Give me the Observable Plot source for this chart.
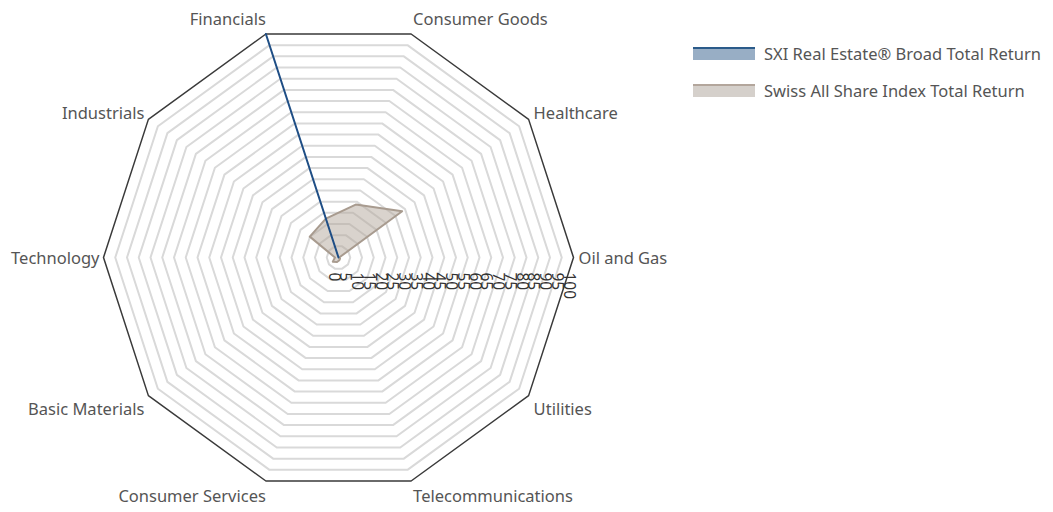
<!DOCTYPE html>
<html>
<head>
<meta charset="utf-8">
<script src="https://cdn.jsdelivr.net/npm/d3@7"></script>
<script src="https://cdn.jsdelivr.net/npm/@observablehq/plot@0.6"></script>
<style>
  html, body { margin: 0; padding: 0; background: #fff; }
  #wrap { position: relative; width: 1053px; height: 512px; font-family: "Noto Sans", sans-serif; }
  #chart svg { display: block; }
  .legend { position: absolute; left: 693px; top: 0; color: #555; font-size: 16.5px; }
  .item { position: absolute; left: 0; white-space: nowrap; display: flex; align-items: center; height: 22px; }
  .sw { width: 62px; height: 13px; flex: none; margin-right: 9px; box-sizing: border-box; }
</style>
</head>
<body>
<div id="wrap">
  <div id="chart"></div>
  <div class="legend" id="legend"></div>
</div>
<script>
// ---- data ----
const sectors = ["Financials", "Consumer Goods", "Healthcare", "Oil and Gas", "Utilities",
  "Telecommunications", "Consumer Services", "Basic Materials", "Technology", "Industrials"];
const seriesNames = ["SXI Real Estate® Broad Total Return", "Swiss All Share Index Total Return"];
const sxiRealEstate = [100, 0, 0, 0, 0, 0, 0, 0, 0, 0];
const swissAllShare = [17.4, 23.7, 33.5, 0.3, 0.8, 1.2, 2.0, 3.0, 1.5, 15.1];
const tickValues = [0, 5, 10, 15, 20, 25, 30, 35, 40, 45, 50, 55, 60, 65, 70, 75, 80, 85, 90, 95, 100];

// ---- geometry helpers ----
const W = 1053, H = 512, CX = 338, CY = 257, R = 235; // pixels
const k = R / 100; // px per unit
const startAngle = 108; // degrees, first category
const angleOf = i => (startAngle - 360 / sectors.length * i) * Math.PI / 180;
const px = (v, i) => v * Math.cos(angleOf(i));
const py = (v, i) => v * Math.sin(angleOf(i));

function polygon(values, name) {
  const pts = values.map((v, i) => ({name, x: px(v, i), y: py(v, i)}));
  pts.push({...pts[0]});
  return pts;
}

const rings = tickValues.filter(t => t > 0).flatMap(t =>
  polygon(sectors.map(() => t), t));
const outer = rings.filter(d => d.name === 100);
const inner = rings.filter(d => d.name !== 100);

const sxiPts = polygon(sxiRealEstate, seriesNames[0]);
const swissPts = polygon(swissAllShare, seriesNames[1]);

// category label positions (pixel offsets converted to data units)
const labels = sectors.map((s, i) => {
  const a = angleOf(i), c = Math.cos(a), sn = Math.sin(a);
  const dxp = Math.abs(c) < 0.5 ? (c > 0 ? 2 : 0) : (c > 0 ? 5 : -4);
  const dyp = sn > 0.9 ? -14 : sn > 0.5 ? -6 : sn > -0.5 ? 1 : sn > -0.9 ? 14 : 16;
  return {text: s, anchor: c > 0.01 ? "start" : "end", x: px(100, i) + dxp / k, y: py(100, i) - dyp / k};
});

const chart = Plot.plot({
  width: W, height: H,
  marginTop: 0, marginRight: 0, marginBottom: 0, marginLeft: 0,
  x: {domain: [-CX / k, (W - CX) / k], range: [0, W], axis: null},
  y: {domain: [-(H - CY) / k, CY / k], range: [H, 0], axis: null},
  style: {fontFamily: "'Noto Sans', sans-serif"},
  marks: [
    Plot.line(inner, {x: "x", y: "y", z: "name", stroke: "#d9d9d9", strokeWidth: 2, curve: "linear"}),
    Plot.line(outer, {x: "x", y: "y", z: "name", stroke: "#3a3a3a", strokeWidth: 1.5, curve: "linear"}),
    Plot.line(swissPts, {x: "x", y: "y", fill: "#b3a79c", fillOpacity: 0.5, stroke: "#a89b8f", strokeWidth: 2}),
    Plot.line(sxiPts, {x: "x", y: "y", fill: "#98aec5", stroke: "#1f4e85", strokeWidth: 2}),
    Plot.text(tickValues, {x: d => d, y: 0, text: d => String(d), rotate: 90, textAnchor: "start",
      dx: -5, dy: 15, fontSize: 15.5, fill: "#333"}),
    Plot.text(labels.filter(d => d.anchor === "start"), {x: "x", y: "y", text: "text", textAnchor: "start", fontSize: 16.5, fill: "#555"}),
    Plot.text(labels.filter(d => d.anchor === "end"), {x: "x", y: "y", text: "text", textAnchor: "end", fontSize: 16.5, fill: "#555"})
  ]
});
document.getElementById("chart").appendChild(chart);

// legend
const legendStyles = [
  {fill: "#98aec5", line: "#2b5b8a", top: 42},
  {fill: "#d5d0cb", line: "#b3a69c", top: 79}
];
const legend = document.getElementById("legend");
seriesNames.forEach((n, i) => {
  const it = document.createElement("div");
  it.className = "item";
  it.style.top = legendStyles[i].top + "px";
  const sw = document.createElement("div");
  sw.className = "sw";
  sw.style.background = legendStyles[i].fill;
  sw.style.borderTop = "2px solid " + legendStyles[i].line;
  const tx = document.createElement("span");
  tx.textContent = n;
  it.appendChild(sw); it.appendChild(tx);
  legend.appendChild(it);
});
</script>
</body>
</html>
